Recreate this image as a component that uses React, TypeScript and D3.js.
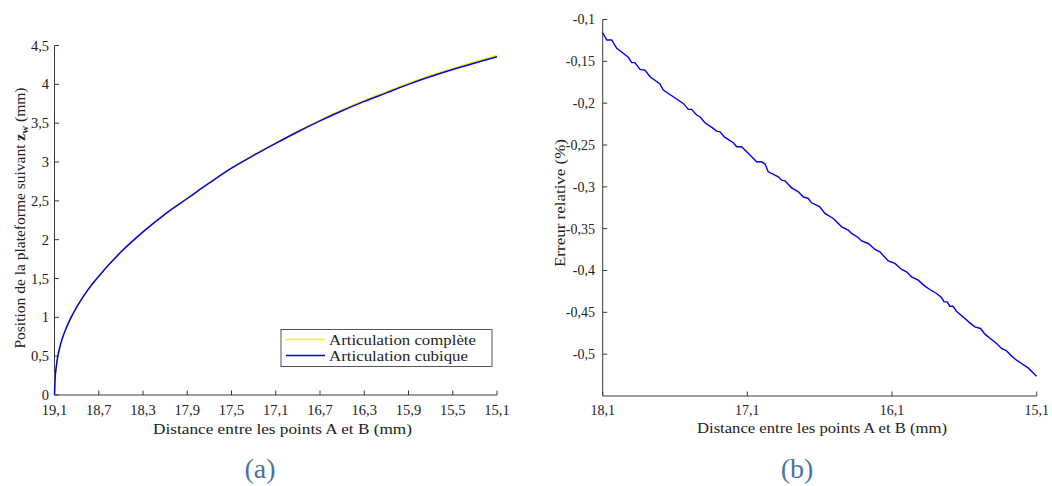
import React from "react";
import * as d3 from "d3";

// ---------- data ----------
const distA = [19.1, 19.095, 19.085, 19.07, 19.04, 19.0, 18.95, 18.9, 18.8, 18.7, 18.5, 18.3, 18.1, 17.9, 17.7, 17.5, 17.3, 17.1, 16.9, 16.7, 16.5, 16.3, 16.1, 15.9, 15.7, 15.5, 15.3, 15.1];
const cubique = [0, 0.2, 0.35, 0.5, 0.68, 0.84, 1.0, 1.13, 1.35, 1.53, 1.84, 2.1, 2.33, 2.53, 2.73, 2.92, 3.085, 3.24, 3.39, 3.53, 3.66, 3.78, 3.89, 4.0, 4.1, 4.19, 4.275, 4.355];
const complete = [0, 0.2, 0.35, 0.5, 0.68, 0.84, 1.0, 1.13, 1.35, 1.53, 1.841, 2.101, 2.332, 2.533, 2.734, 2.925, 3.091, 3.247, 3.398, 3.539, 3.67, 3.791, 3.902, 4.013, 4.114, 4.205, 4.291, 4.372];

const distB = [18.1, 18.072, 18.038, 18.003, 17.923, 17.9, 17.877, 17.842, 17.808, 17.773, 17.704, 17.681, 17.543, 17.508, 17.485, 17.451, 17.428, 17.393, 17.336, 17.313, 17.289, 17.255, 17.197, 17.174, 17.139, 17.105, 17.07, 17.036, 17.001, 16.978, 16.956, 16.886, 16.863, 16.84, 16.794, 16.748, 16.714, 16.679, 16.656, 16.599, 16.564, 16.506, 16.483, 16.448, 16.403, 16.379, 16.334, 16.31, 16.264, 16.218, 16.184, 16.126, 16.08, 16.034, 16.0, 15.965, 15.919, 15.873, 15.839, 15.792, 15.758, 15.74, 15.719, 15.701, 15.678, 15.655, 15.608, 15.562, 15.527, 15.488, 15.458, 15.412, 15.377, 15.343, 15.308, 15.274, 15.239, 15.205, 15.159, 15.101];
const erreur = [-0.1158, -0.1245, -0.1245, -0.1345, -0.1452, -0.1516, -0.1516, -0.1596, -0.1604, -0.1684, -0.1771, -0.1843, -0.2003, -0.2074, -0.2074, -0.2142, -0.2162, -0.2234, -0.2301, -0.2334, -0.2342, -0.2409, -0.2473, -0.2521, -0.2521, -0.2581, -0.2641, -0.2701, -0.2701, -0.2728, -0.282, -0.288, -0.292, -0.2928, -0.3012, -0.306, -0.3119, -0.3139, -0.3191, -0.3239, -0.3318, -0.3378, -0.3418, -0.3478, -0.3518, -0.3557, -0.3605, -0.3646, -0.3677, -0.3749, -0.3777, -0.3885, -0.3916, -0.3988, -0.4016, -0.4076, -0.4116, -0.4187, -0.4227, -0.4275, -0.4323, -0.4375, -0.4375, -0.4427, -0.4427, -0.4486, -0.4555, -0.4626, -0.4674, -0.4693, -0.4761, -0.4825, -0.4873, -0.4932, -0.4961, -0.5021, -0.5072, -0.5112, -0.5164, -0.5264];

const ticksXA = [19.1, 18.7, 18.3, 17.9, 17.5, 17.1, 16.7, 16.3, 15.9, 15.5, 15.1];
const ticksYA = [0, 0.5, 1, 1.5, 2, 2.5, 3, 3.5, 4, 4.5];
const ticksXB = [18.1, 17.1, 16.1, 15.1];
const ticksYB = [-0.1, -0.15, -0.2, -0.25, -0.3, -0.35, -0.4, -0.45, -0.5];

const seriesNames = ["Articulation complète", "Articulation cubique"];

// ---------- helpers ----------
const FONT = '"Liberation Serif"';
const AXIS = "#3a3a3a";
const TXT = "#222";
const fmt = (v: number) => String(+v.toFixed(2)).replace(".", ",");

export default function App() {
  const xA = d3.scaleLinear().domain([19.1, 15.1]).range([54.5, 497]);
  const yA = d3.scaleLinear().domain([0, 4.5]).range([395, 45.5]);
  const xB = d3.scaleLinear().domain([18.1, 15.1]).range([602.7, 1036.7]);
  const yB = d3.scaleLinear().domain([-0.55, -0.1]).range([396, 19.5]);

  const lineA = d3
    .line<number>()
    .x((_, i) => xA(distA[i]))
    .y((d) => yA(d))
    .curve(d3.curveMonotoneX);
  const lineB = d3
    .line<number>()
    .x((_, i) => xB(distB[i]))
    .y((d) => yB(d));

  const tickLen = 4.5;
  const ts = { fontFamily: FONT } as React.CSSProperties;

  return (
    <svg width={1052} height={486} style={{ position: "absolute", left: 0, top: 0, background: "#fff" }}>
      <rect x={0} y={0} width={1052} height={486} fill="#fff" />

      {/* ===== Panel A ===== */}
      <g>
        <line x1={xA.range()[0]} x2={xA.range()[1]} y1={yA(0)} y2={yA(0)} stroke={AXIS} strokeWidth={1} />
        <line x1={xA.range()[0]} x2={xA.range()[0]} y1={yA(0)} y2={yA(4.5)} stroke={AXIS} strokeWidth={1} />
        {ticksXA.map((t) => (
          <g key={"xa" + t}>
            <line x1={xA(t)} x2={xA(t)} y1={yA(0)} y2={yA(0) - tickLen} stroke={AXIS} />
            <text x={xA(t)} y={415} fontSize={14.5} textAnchor="middle" fill={TXT} style={ts}>
              {fmt(t)}
            </text>
          </g>
        ))}
        {ticksYA.map((t) => (
          <g key={"ya" + t}>
            <line x1={xA.range()[0]} x2={xA.range()[0] + tickLen} y1={yA(t)} y2={yA(t)} stroke={AXIS} />
            <text x={49} y={yA(t)} dy="0.35em" fontSize={14.5} textAnchor="end" fill={TXT} style={ts}>
              {fmt(t)}
            </text>
          </g>
        ))}
        <text x={282.5} y={434} fontSize={15.5} textAnchor="middle" textLength={259} lengthAdjust="spacingAndGlyphs" fill={TXT} style={ts}>
          Distance entre les points A et B (mm)
        </text>
        <text transform="translate(25,218) rotate(-90)" fontSize={15.5} textAnchor="middle" fill={TXT} style={ts}>
          Position de la plateforme suivant{" "}
          <tspan fontWeight="bold">z</tspan>
          <tspan fontWeight="bold" fontSize={11} dy={3}>w</tspan>
          <tspan dy={-3}> (mm)</tspan>
        </text>

        <path d={lineA(complete) || ""} fill="none" stroke="#f2f200" strokeWidth={1.5} />
        <path d={lineA(cubique) || ""} fill="none" stroke="#0000ee" strokeWidth={1.5} />

        <rect x={281} y={329.5} width={211} height={37} fill="#fff" stroke="#555" strokeWidth={1} />
        <line x1={286} x2={325} y1={339.5} y2={339.5} stroke="#f2f200" strokeWidth={1.5} />
        <line x1={286} x2={325} y1={355.5} y2={355.5} stroke="#0000ee" strokeWidth={1.5} />
        <text x={329} y={344.5} fontSize={15.5} textLength={147} lengthAdjust="spacingAndGlyphs" fill={TXT} style={ts}>{seriesNames[0]}</text>
        <text x={329} y={361} fontSize={15.5} textLength={139} lengthAdjust="spacingAndGlyphs" fill={TXT} style={ts}>{seriesNames[1]}</text>
      </g>

      {/* ===== Panel B ===== */}
      <g>
        <line x1={xB.range()[0]} x2={xB.range()[1]} y1={yB(-0.55)} y2={yB(-0.55)} stroke={AXIS} strokeWidth={1} />
        <line x1={xB.range()[0]} x2={xB.range()[0]} y1={yB(-0.55)} y2={yB(-0.1)} stroke={AXIS} strokeWidth={1} />
        {ticksXB.map((t) => (
          <g key={"xb" + t}>
            <line x1={xB(t)} x2={xB(t)} y1={yB(-0.55)} y2={yB(-0.55) - tickLen} stroke={AXIS} />
            <text x={xB(t)} y={415} fontSize={14} textAnchor="middle" fill={TXT} style={ts}>
              {fmt(t)}
            </text>
          </g>
        ))}
        {ticksYB.map((t) => (
          <g key={"yb" + t}>
            <line x1={xB.range()[0]} x2={xB.range()[0] + tickLen} y1={yB(t)} y2={yB(t)} stroke={AXIS} />
            <text x={595} y={yB(t)} dy="0.35em" fontSize={14} textAnchor="end" fill={TXT} style={ts}>
              {fmt(t)}
            </text>
          </g>
        ))}
        <text x={822} y={433} fontSize={15} textAnchor="middle" textLength={250} lengthAdjust="spacingAndGlyphs" fill={TXT} style={ts}>
          Distance entre les points A et B (mm)
        </text>
        <text transform="translate(565,203) rotate(-90)" fontSize={15} textAnchor="middle" textLength={128} lengthAdjust="spacingAndGlyphs" fill={TXT} style={ts}>
          Erreur relative (%)
        </text>
        <path d={lineB(erreur) || ""} fill="none" stroke="#0000ee" strokeWidth={1.4} />
      </g>

      <text x={260} y={478} fontSize={28} textAnchor="middle" fill="#4a72a8" style={ts}>(a)</text>
      <text x={797} y={478} fontSize={28} textAnchor="middle" fill="#4a72a8" style={ts}>(b)</text>
    </svg>
  );
}
